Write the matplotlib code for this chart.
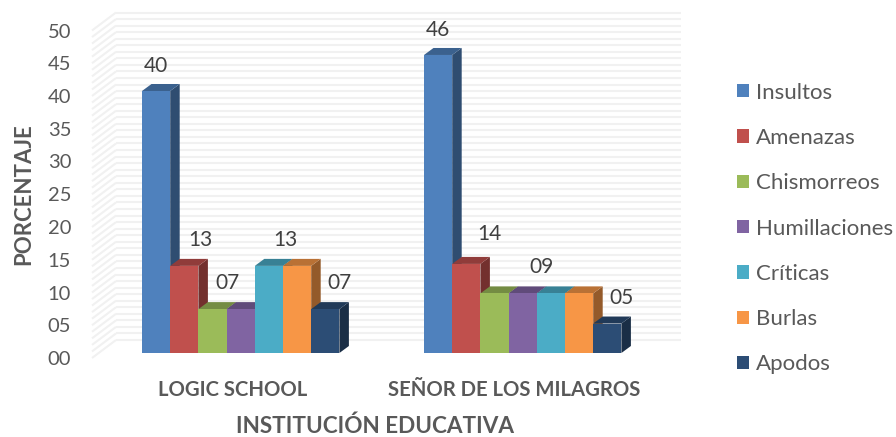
"""plot.py - 3D style clustered columns: aggression types by school."""
import matplotlib

matplotlib.use("Agg")
import matplotlib.pyplot as plt
import numpy as np
from matplotlib.colors import to_rgb

plt.rcParams["font.family"] = ["Lato", "DejaVu Sans"]

SCHOOLS = ["LOGIC SCHOOL", "SEÑOR DE LOS MILAGROS"]
TYPES = ["Insultos", "Amenazas", "Chismorreos", "Humillaciones", "Críticas", "Burlas", "Apodos"]
LOGIC_VALUES = [40.0, 13.3, 6.7, 6.7, 13.3, 13.3, 6.7]
MILAGROS_VALUES = [45.5, 13.6, 9.1, 9.1, 9.1, 9.1, 4.5]
LOGIC_LABELS = ["40", "13", "07", "", "13", "", "07"]
MILAGROS_LABELS = ["46", "14", "", "09", "", "", "05"]
Y_TICKS = [0, 5, 10, 15, 20, 25, 30, 35, 40, 45, 50]

COLORS = ["#4F81BD", "#C0504D", "#9BBB59", "#8064A2", "#4BACC6", "#F79646", "#2C4D75"]
TEXT = "#595959"
WALL = "#F1F1F1"

W, H = 896, 437
# pixel layout of the front plane
LEFT, RIGHT, BOTTOM, TOP = 92, 657, 358, 30.5
BAR_PX = 28.2
PX_Y = (BOTTOM - TOP) / 50
FLOOR = 5 / PX_Y  # bars stand a little behind the front plane
DX, DY = 9.5 / BAR_PX, 7 / PX_Y  # bar depth
WALL_DX, WALL_DY = 24 / BAR_PX, 18 / PX_Y  # wall depth
X0 = (142 - LEFT) / BAR_PX
GROUP_START = [0, 10]
TICK_POS = [3.2, 13.2]
# label shift from the bar top centre, in pixels
NUDGE_X = [[0, 16, 15, 0, 16, 0, 14], [0, 23, 0, 19, 0, 0, 14]]
NUDGE_Y = [[25, 26, 26, 0, 26, 0, 26], [25, 30, 0, 26, 0, 0, 26]]


def shade(color, k):
    return tuple(c * k for c in to_rgb(color))


def main():
    fig = plt.figure(figsize=(W / 100, H / 100), dpi=100, facecolor="white")
    ax = fig.add_axes([LEFT / W, 1 - BOTTOM / H, (RIGHT - LEFT) / W, (BOTTOM - TOP) / H])
    ax.set_xlim(-X0, (RIGHT - LEFT) / BAR_PX - X0)
    ax.set_ylim(0, 50)
    for spine in ax.spines.values():
        spine.set_visible(False)
    ax.patch.set_visible(False)

    # back wall and side wall rules, one per unit
    x_back_end = ax.get_xlim()[1]
    for v in np.arange(0, 51):
        ax.plot([-X0 + WALL_DX, x_back_end + WALL_DX], [v + WALL_DY, v + WALL_DY],
                color=WALL, lw=1.5, clip_on=False, zorder=1, solid_capstyle="butt")
        ax.plot([-X0, -X0 + WALL_DX], [v, v + WALL_DY],
                color=WALL, lw=1.5, clip_on=False, zorder=1, solid_capstyle="butt")

    z = 3
    handles = []
    for g, (values, labels) in enumerate([(LOGIC_VALUES, LOGIC_LABELS), (MILAGROS_VALUES, MILAGROS_LABELS)]):
        for i, v in enumerate(values):
            x = GROUP_START[g] + i
            top = FLOOR + v
            col = COLORS[i]
            ax.fill([x + 1, x + 1 + DX, x + 1 + DX, x + 1],
                    [FLOOR, FLOOR + DY, top + DY, top],
                    color=shade(col, 0.6), lw=0, zorder=z, clip_on=False)
            ax.fill([x, x + DX, x + 1 + DX, x + 1],
                    [top, top + DY, top + DY, top],
                    color=shade(col, 0.75), lw=0, zorder=z, clip_on=False)
            bar = ax.bar(x, v, width=1, bottom=FLOOR, align="edge", color=col, lw=0,
                         zorder=z + 0.5)
            if g == 0:
                handles.append(bar[0])
            if labels[i]:
                ax.annotate(labels[i], xy=(x + 0.5, top),
                            xytext=(NUDGE_X[g][i] * 0.72, NUDGE_Y[g][i] * 0.72),
                            textcoords="offset points", ha="center", va="center",
                            fontsize=15, color="#404040", zorder=20)
            z += 1

    ax.set_yticks(Y_TICKS)
    ax.set_yticklabels([f"{t:02d}" for t in Y_TICKS], fontsize=14.5, color=TEXT)
    ax.set_xticks(TICK_POS)
    ax.set_xticklabels(SCHOOLS, fontsize=14.6, fontweight="bold", color=TEXT)
    ax.tick_params(axis="y", length=0, pad=15)
    ax.tick_params(axis="x", length=0, pad=16)
    ax.set_ylabel("PORCENTAJE", fontsize=16, fontweight="bold", color=TEXT, labelpad=10)
    ax.set_xlabel("INSTITUCIÓN EDUCATIVA", fontsize=16.2, fontweight="bold", color=TEXT, labelpad=11)

    fig.legend(handles, TYPES, loc="center left", bbox_to_anchor=(737 / W, 1 - 228.5 / H),
               frameon=False, fontsize=16, labelcolor=TEXT, handlelength=0.54,
               handleheight=0.54, handletextpad=0.32, labelspacing=1.14,
               borderpad=0, borderaxespad=0)

    fig.savefig("out.png", dpi=100, facecolor="white")
    plt.close(fig)


if __name__ == "__main__":
    main()
